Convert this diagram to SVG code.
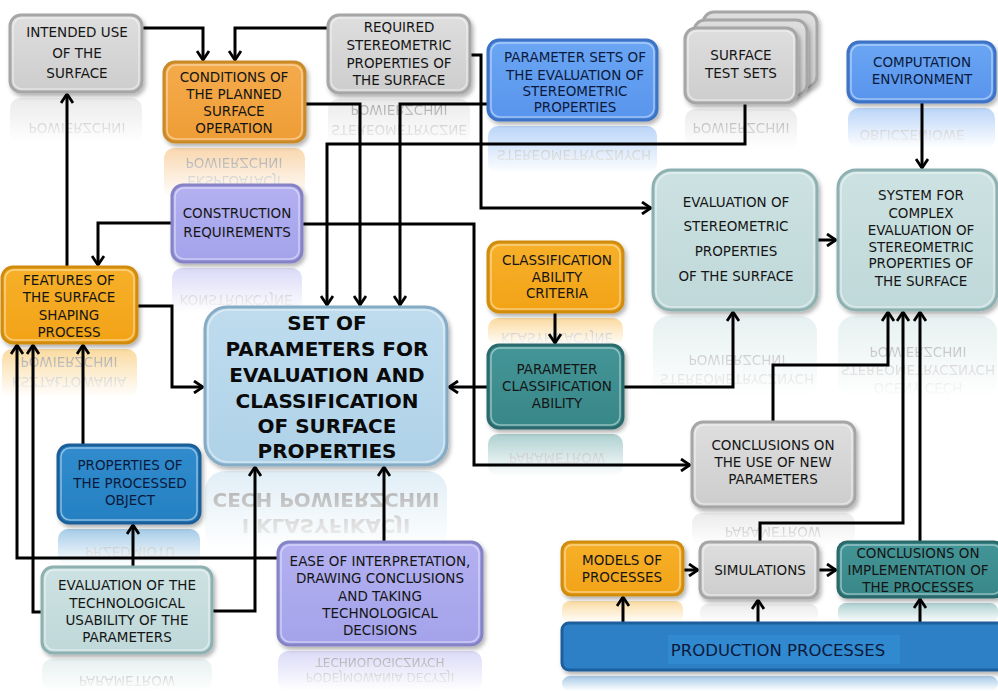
<svg xmlns="http://www.w3.org/2000/svg" width="998" height="691" viewBox="0 0 998 691">
<style>
.t{font-family:"DejaVu Sans",Verdana,sans-serif;font-size:13.5px;fill:#151515;text-anchor:middle}
.nv{fill:#0b1a3c}
.big{font-size:20px;font-weight:bold;fill:#0a0a0a}
.rt{font-family:"DejaVu Sans",Verdana,sans-serif;font-size:13.5px;fill:#1a1a1a;text-anchor:middle}
.rts{font-size:12px}
.rtb{font-size:20px;font-weight:bold}
.c{fill:none;stroke:#000;stroke-width:3;stroke-linejoin:miter;marker-end:url(#ah)}
.box{stroke-width:3;filter:url(#sh)}
.hl{fill:none;stroke:#fff;stroke-opacity:.45;stroke-width:1.5}
.gray{fill:url(#gGray);stroke:#a6a6a6}
.orange{fill:url(#gOr);stroke:#c98a2a}
.orange2{fill:url(#gOr2);stroke:#d08c10}
.blue{fill:url(#gBlue);stroke:#3d72c4}
.lav{fill:url(#gLav);stroke:#8583c6}
.setb{fill:url(#gSet);stroke:#86abc4}
.teal{fill:url(#gTeal);stroke:#2a6b6d}
.lteal{fill:url(#gLt);stroke:#8db0b1}
.dblue{fill:url(#gDb);stroke:#1b5e98}
.prod{fill:#2e80c6;stroke:#1f5f9c}
</style>
<defs>
<filter id="sh" x="-10%" y="-10%" width="125%" height="130%"><feDropShadow dx="2" dy="3" stdDeviation="2" flood-color="#000" flood-opacity="0.3"/></filter>
<linearGradient id="gGray" x1="0" y1="0" x2="0" y2="1"><stop offset="0" stop-color="#dedede"/><stop offset="1" stop-color="#cdcdcd"/></linearGradient>
<linearGradient id="gOr" x1="0" y1="0" x2="0" y2="1"><stop offset="0" stop-color="#f5ab4c"/><stop offset="1" stop-color="#ee9d35"/></linearGradient>
<linearGradient id="gOr2" x1="0" y1="0" x2="0" y2="1"><stop offset="0" stop-color="#f7b02a"/><stop offset="1" stop-color="#f2a317"/></linearGradient>
<linearGradient id="gBlue" x1="0" y1="0" x2="0" y2="1"><stop offset="0" stop-color="#6ba6f4"/><stop offset="1" stop-color="#5894ec"/></linearGradient>
<linearGradient id="gLav" x1="0" y1="0" x2="0" y2="1"><stop offset="0" stop-color="#b3b1f1"/><stop offset="1" stop-color="#a4a2ea"/></linearGradient>
<linearGradient id="gSet" x1="0" y1="0" x2="0" y2="1"><stop offset="0" stop-color="#bfdcee"/><stop offset="1" stop-color="#afd2e8"/></linearGradient>
<linearGradient id="gTeal" x1="0" y1="0" x2="0" y2="1"><stop offset="0" stop-color="#449597"/><stop offset="1" stop-color="#388788"/></linearGradient>
<linearGradient id="gLt" x1="0" y1="0" x2="0" y2="1"><stop offset="0" stop-color="#cde2e2"/><stop offset="1" stop-color="#bfd8d9"/></linearGradient>
<linearGradient id="gDb" x1="0" y1="0" x2="0" y2="1"><stop offset="0" stop-color="#318ccd"/><stop offset="1" stop-color="#2580c2"/></linearGradient>
<linearGradient id="fadeg" x1="0" y1="0" x2="0" y2="1"><stop offset="0" stop-color="#fff" stop-opacity="0.42"/><stop offset="1" stop-color="#fff" stop-opacity="0"/></linearGradient>
<mask id="fade" maskContentUnits="objectBoundingBox"><rect x="0" y="0" width="1" height="1" fill="url(#fadeg)"/></mask>
<marker id="ah" viewBox="0 0 12 14" refX="10" refY="7" markerWidth="12" markerHeight="14" markerUnits="userSpaceOnUse" orient="auto"><path d="M1,1 L10,7 L1,13" fill="none" stroke="#000" stroke-width="2.8"/></marker>
</defs>
<rect width="998" height="691" fill="#fff"/>

<g id="reflections">
<g mask="url(#fade)"><rect x="10" y="98" width="132" height="45" rx="10" fill="#cfcfcf"/><text class="rt" x="77" y="-123" transform="scale(1,-1)">POWIERZCHNI</text></g>
<g mask="url(#fade)"><rect x="164" y="148" width="141" height="50" rx="10" fill="#f1a040"/><text class="rt" x="234" y="-158" transform="scale(1,-1)">POWIERZCHNI</text><text class="rt" x="234" y="-176" transform="scale(1,-1)">EKSPLOATACJI</text></g>
<g mask="url(#fade)"><rect x="328" y="99" width="142" height="48" rx="10" fill="#cfcfcf"/><text class="rt" x="399" y="-105" transform="scale(1,-1)">POWIERZCHNI</text><text class="rt" x="399" y="-125" transform="scale(1,-1)">STEREOMETRYCZNE</text></g>
<g mask="url(#fade)"><rect x="488" y="126" width="169" height="48" rx="10" fill="#5d9cf0"/><text class="rt" x="574" y="-150" transform="scale(1,-1)">STEREOMETRYCZNYCH</text></g>
<g mask="url(#fade)"><rect x="685" y="109" width="112" height="40" rx="10" fill="#cfcfcf"/><text class="rt" x="741" y="-123" transform="scale(1,-1)">POWIERZCHNI</text></g>
<g mask="url(#fade)"><rect x="848" y="108" width="147" height="40" rx="10" fill="#5d9cf0"/><text class="rt" x="912" y="-130" transform="scale(1,-1)">OBLICZENIOWE</text></g>
<g mask="url(#fade)"><rect x="172" y="268" width="130" height="45" rx="10" fill="#aaa8ee"/><text class="rt" x="236" y="-295" transform="scale(1,-1)">KONSTRUKCYJNE</text></g>
<g mask="url(#fade)"><rect x="2" y="349" width="135" height="48" rx="10" fill="#f5a81c"/><text class="rt" x="69" y="-357" transform="scale(1,-1)">POWIERZCHNI</text><text class="rt" x="69" y="-377" transform="scale(1,-1)">KSZTAŁTOWANIA</text></g>
<g mask="url(#fade)"><rect x="488" y="318" width="135" height="28" rx="10" fill="#f5a81c"/><text class="rt" x="557" y="-333" transform="scale(1,-1)">KLASYFIKACYJNE</text></g>
<g mask="url(#fade)"><rect x="488" y="434" width="135" height="42" rx="10" fill="#3e8f90"/><text class="rt" x="557" y="-453" transform="scale(1,-1)">PARAMETRÓW</text></g>
<g mask="url(#fade)"><rect x="653" y="316" width="164" height="82" rx="16" fill="#c6dddd"/><text class="rt" x="737" y="-355" transform="scale(1,-1)">POWIERZCHNI</text><text class="rt" x="737" y="-374" transform="scale(1,-1)">STEREOMETRYCZNYCH</text></g>
<g mask="url(#fade)"><rect x="838" y="316" width="159" height="82" rx="16" fill="#c6dddd"/><text class="rt" x="918" y="-347" transform="scale(1,-1)">POWIERZCHNI</text><text class="rt" x="918" y="-365" transform="scale(1,-1)">STEREOMETRYCZNYCH</text><text class="rt" x="918" y="-383" transform="scale(1,-1)">OCENY CECH</text></g>
<g mask="url(#fade)"><rect x="205" y="471" width="242" height="80" rx="20" fill="#b6d7ea"/><text class="rt rtb" x="326" y="-493" transform="scale(1,-1)">CECH POWIERZCHNI</text><text class="rt rtb" x="326" y="-519" transform="scale(1,-1)">I KLASYFIKACJI</text></g>
<g mask="url(#fade)"><rect x="58" y="529" width="142" height="36" rx="10" fill="#2a86c8"/><text class="rt" x="130" y="-547" transform="scale(1,-1)">PRZEDMIOTU</text></g>
<g mask="url(#fade)"><rect x="42" y="659" width="170" height="32" rx="10" fill="#c6dddd"/><text class="rt" x="127" y="-676" transform="scale(1,-1)">PARAMETRÓW</text></g>
<g mask="url(#fade)"><rect x="278" y="651" width="204" height="40" rx="10" fill="#aaa8ee"/><text class="rt rts" x="380" y="-658" transform="scale(1,-1)">TECHNOLOGICZNYCH</text><text class="rt rts" x="380" y="-673" transform="scale(1,-1)">PODEJMOWANIA DECYZJI</text></g>
<g mask="url(#fade)"><rect x="692" y="513" width="163" height="32" rx="10" fill="#cfcfcf"/><text class="rt" x="773" y="-527" transform="scale(1,-1)">PARAMETRÓW</text></g>
<g mask="url(#fade)"><rect x="562" y="601" width="121" height="22" rx="8" fill="#f5ab25"/></g>
<g mask="url(#fade)"><rect x="700" y="604" width="118" height="19" rx="8" fill="#cfcfcf"/></g>
<g mask="url(#fade)"><rect x="838" y="603" width="160" height="20" rx="8" fill="#3e8f90"/></g>
<g mask="url(#fade)"><rect x="562" y="676" width="436" height="15" rx="8" fill="#2e80c6"/></g>
</g>

<g id="connectors">
<path class="c" d="M142,28 H203 V60"/>
<path class="c" d="M327,28 H235 V60"/>
<path class="c" d="M67,267 V94"/>
<path class="c" d="M305,104 H360 V305"/>
<path class="c" d="M488,104 H400 V305"/>
<path class="c" d="M745,103 V144 H327 V305"/>
<path class="c" d="M470,55 H481 V208 H651"/>
<path class="c" d="M172,223 H98 V265"/>
<path class="c" d="M302,224 H474 V465 H690"/>
<path class="c" d="M137,306 H172 V387 H203"/>
<path class="c" d="M488,387 H449"/>
<path class="c" d="M555,312 V343"/>
<path class="c" d="M623,387 H733 V312"/>
<path class="c" d="M817,240 H836"/>
<path class="c" d="M922,102 V168"/>
<path class="c" d="M773,422 V365 H888 V312"/>
<path class="c" d="M760,542 V523 H903 V312"/>
<path class="c" d="M920,542 V312"/>
<path class="c" d="M683,570 H698"/>
<path class="c" d="M818,570 H836"/>
<path class="c" d="M623,623 V597"/>
<path class="c" d="M758,623 V600"/>
<path class="c" d="M920,623 V599"/>
<path class="c" d="M83,445 V345"/>
<path class="c" d="M133,567 V525"/>
<path class="c" d="M42,612 H33 V345"/>
<path class="c" d="M278,558 H17 V345"/>
<path class="c" d="M212,611 H255 V467"/>
<path class="c" d="M384,542 V467"/>
</g>

<g id="n-intended-use"><rect class="box gray" x="10" y="15" width="132" height="77" rx="11"/><rect class="hl" x="13" y="18" width="126" height="71" rx="9"/>
<text class="t" x="77" y="37">INTENDED USE</text><text class="t" x="77" y="58">OF THE</text><text class="t" x="77" y="78">SURFACE</text></g>

<g id="n-conditions"><rect class="box orange" x="164" y="62" width="141" height="80" rx="11"/><rect class="hl" x="167" y="65" width="135" height="74" rx="9"/>
<text class="t" x="234" y="82">CONDITIONS OF</text><text class="t" x="234" y="99">THE PLANNED</text><text class="t" x="234" y="116">SURFACE</text><text class="t" x="234" y="133">OPERATION</text></g>

<g id="n-required"><rect class="box gray" x="328" y="15" width="142" height="78" rx="11"/><rect class="hl" x="331" y="18" width="136" height="72" rx="9"/>
<text class="t" x="399" y="32">REQUIRED</text><text class="t" x="399" y="50">STEREOMETRIC</text><text class="t" x="399" y="68">PROPERTIES OF</text><text class="t" x="399" y="85">THE SURFACE</text></g>

<g id="n-parameter-sets"><rect class="box blue" x="488" y="40" width="169" height="80" rx="11"/><rect class="hl" x="491" y="43" width="163" height="74" rx="9"/>
<text class="t nv" x="575" y="62">PARAMETER SETS OF</text><text class="t nv" x="575" y="80">THE EVALUATION OF</text><text class="t nv" x="575" y="96">STEREOMETRIC</text><text class="t nv" x="575" y="112">PROPERTIES</text></g>

<g id="n-surface-test-sets">
<rect class="box gray" x="703" y="12" width="114" height="75" rx="11"/>
<rect class="box gray" x="694" y="20" width="113" height="75" rx="11"/>
<rect class="box gray" x="685" y="28" width="112" height="75" rx="11"/><rect class="hl" x="688" y="31" width="106" height="69" rx="9"/>
<text class="t" x="741" y="60">SURFACE</text><text class="t" x="741" y="78">TEST SETS</text></g>

<g id="n-computation"><rect class="box blue" x="848" y="42" width="147" height="60" rx="11"/><rect class="hl" x="851" y="45" width="141" height="54" rx="9"/>
<text class="t nv" x="922" y="67">COMPUTATION</text><text class="t nv" x="922" y="84">ENVIRONMENT</text></g>

<g id="n-construction"><rect class="box lav" x="172" y="185" width="130" height="77" rx="11"/><rect class="hl" x="175" y="188" width="124" height="71" rx="9"/>
<text class="t" x="237" y="218">CONSTRUCTION</text><text class="t" x="237" y="237">REQUIREMENTS</text></g>

<g id="n-features"><rect class="box orange2" x="2" y="267" width="135" height="76" rx="11"/><rect class="hl" x="5" y="270" width="129" height="70" rx="9"/>
<text class="t" x="69" y="285">FEATURES OF</text><text class="t" x="69" y="302">THE SURFACE</text><text class="t" x="69" y="320">SHAPING</text><text class="t" x="69" y="337">PROCESS</text></g>

<g id="n-set-of-parameters"><rect class="box setb" x="205" y="307" width="242" height="158" rx="22"/><rect class="hl" x="208" y="310" width="236" height="152" rx="20"/>
<text class="t big" x="327" y="330">SET OF</text><text class="t big" x="327" y="356">PARAMETERS FOR</text><text class="t big" x="327" y="382">EVALUATION AND</text><text class="t big" x="327" y="408">CLASSIFICATION</text><text class="t big" x="327" y="433">OF SURFACE</text><text class="t big" x="327" y="458">PROPERTIES</text></g>

<g id="n-criteria"><rect class="box orange2" x="488" y="242" width="135" height="70" rx="11"/><rect class="hl" x="491" y="245" width="129" height="64" rx="9"/>
<text class="t" x="557" y="265">CLASSIFICATION</text><text class="t" x="557" y="282">ABILITY</text><text class="t" x="557" y="298">CRITERIA</text></g>

<g id="n-param-classification"><rect class="box teal" x="488" y="345" width="135" height="83" rx="11"/><rect class="hl" x="491" y="348" width="129" height="77" rx="9"/>
<text class="t" x="557" y="374">PARAMETER</text><text class="t" x="557" y="391">CLASSIFICATION</text><text class="t" x="557" y="408">ABILITY</text></g>

<g id="n-evaluation-stereo"><rect class="box lteal" x="653" y="170" width="164" height="140" rx="18"/><rect class="hl" x="656" y="173" width="158" height="134" rx="16"/>
<text class="t" x="736" y="207">EVALUATION OF</text><text class="t" x="736" y="231">STEREOMETRIC</text><text class="t" x="736" y="256">PROPERTIES</text><text class="t" x="736" y="281">OF THE SURFACE</text></g>

<g id="n-system"><rect class="box lteal" x="838" y="170" width="159" height="140" rx="18"/><rect class="hl" x="841" y="173" width="153" height="134" rx="16"/>
<text class="t" x="921" y="200">SYSTEM FOR</text><text class="t" x="921" y="218">COMPLEX</text><text class="t" x="921" y="235">EVALUATION OF</text><text class="t" x="921" y="252">STEREOMETRIC</text><text class="t" x="921" y="268">PROPERTIES OF</text><text class="t" x="921" y="286">THE SURFACE</text></g>

<g id="n-conclusions-use"><rect class="box gray" x="692" y="422" width="163" height="85" rx="11"/><rect class="hl" x="695" y="425" width="157" height="79" rx="9"/>
<text class="t" x="773" y="450">CONCLUSIONS ON</text><text class="t" x="773" y="467">THE USE OF NEW</text><text class="t" x="773" y="484">PARAMETERS</text></g>

<g id="n-processed-object"><rect class="box dblue" x="58" y="445" width="142" height="78" rx="11"/><rect class="hl" x="61" y="448" width="136" height="72" rx="9"/>
<text class="t nv" x="130" y="470">PROPERTIES OF</text><text class="t nv" x="130" y="488">THE PROCESSED</text><text class="t nv" x="130" y="505">OBJECT</text></g>

<g id="n-evaluation-tech"><rect class="box lteal" x="42" y="567" width="170" height="86" rx="11"/><rect class="hl" x="45" y="570" width="164" height="80" rx="9"/>
<text class="t" x="127" y="590">EVALUATION OF THE</text><text class="t" x="127" y="608">TECHNOLOGICAL</text><text class="t" x="127" y="625">USABILITY OF THE</text><text class="t" x="127" y="642">PARAMETERS</text></g>

<g id="n-ease"><rect class="box lav" x="278" y="542" width="204" height="103" rx="11"/><rect class="hl" x="281" y="545" width="198" height="97" rx="9"/>
<text class="t" x="380" y="566">EASE OF INTERPRETATION,</text><text class="t" x="380" y="583">DRAWING CONCLUSIONS</text><text class="t" x="380" y="601">AND TAKING</text><text class="t" x="380" y="618">TECHNOLOGICAL</text><text class="t" x="380" y="635">DECISIONS</text></g>

<g id="n-models"><rect class="box orange2" x="562" y="542" width="121" height="53" rx="9"/><rect class="hl" x="565" y="545" width="115" height="47" rx="7"/>
<text class="t" x="622" y="565">MODELS OF</text><text class="t" x="622" y="582">PROCESSES</text></g>

<g id="n-simulations"><rect class="box gray" x="700" y="542" width="118" height="56" rx="9"/><rect class="hl" x="703" y="545" width="112" height="50" rx="7"/>
<text class="t" x="760" y="575">SIMULATIONS</text></g>

<g id="n-conclusions-impl"><rect class="box teal" x="838" y="542" width="165" height="55" rx="9"/><rect class="hl" x="841" y="545" width="159" height="49" rx="7"/>
<text class="t" x="918" y="558">CONCLUSIONS ON</text><text class="t" x="918" y="575">IMPLEMENTATION OF</text><text class="t" x="918" y="592">THE PROCESSES</text></g>

<g id="n-production"><rect class="box prod" x="562" y="623" width="445" height="47" rx="7"/><rect x="668" y="635" width="232" height="29" fill="#3189cf"/>
<text class="t nv" x="778" y="656" style="font-size:16.5px">PRODUCTION PROCESSES</text></g>
</svg>
